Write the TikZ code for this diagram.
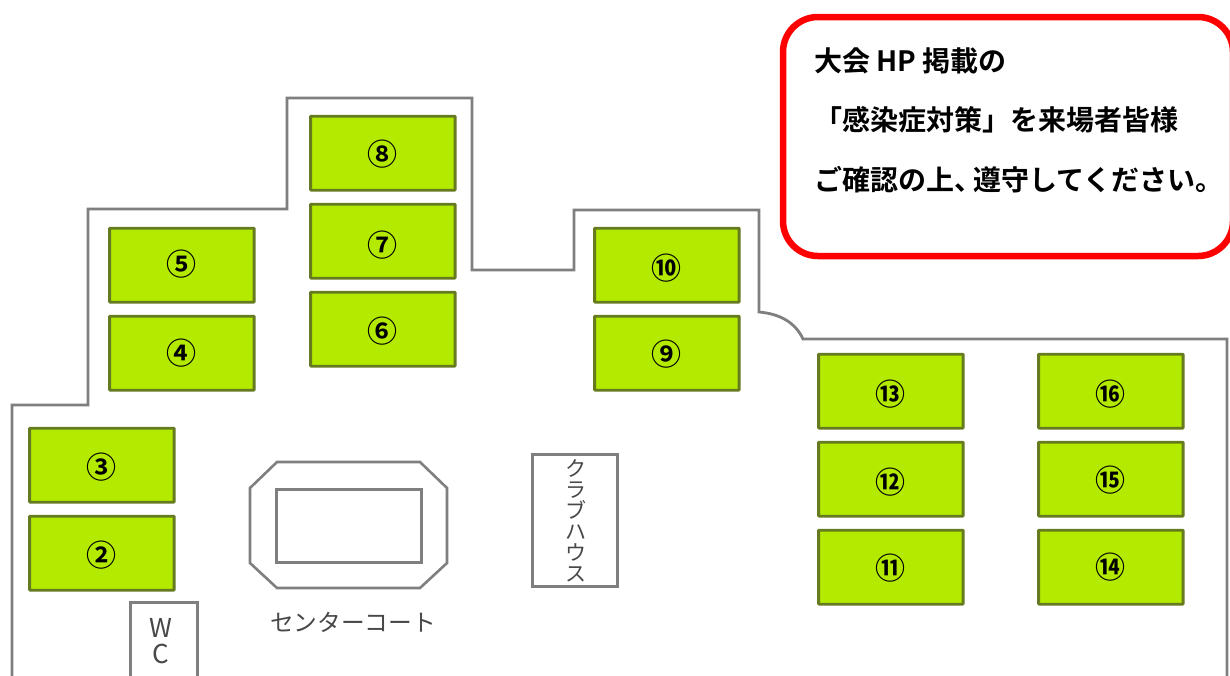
\documentclass[tikz,border=0pt]{standalone}
\usepackage{fontspec}
\newfontfamily\jp{Noto Sans CJK JP}
\newfontfamily\jpb{Noto Sans CJK JP Bold}[BoldFont={Noto Sans CJK JP Bold}]
\definecolor{courtgreen}{HTML}{B4EA00}
\definecolor{courtedge}{HTML}{667A20}
\definecolor{wallgray}{HTML}{7F7F80}
\definecolor{inkgray}{HTML}{484848}
\definecolor{alertred}{HTML}{FF0000}
\tikzset{
  court/.style={draw=courtedge,fill=courtgreen,line width=2.8pt,rounded corners=0.6pt,minimum width=144.5pt,minimum height=74pt,inner sep=0pt,anchor=north west,xshift=-0.8pt,yshift=1.2pt},
  courtnum/.style={inner sep=0pt,font=\jpb\fontsize{30}{30}\selectfont,text=black},
  wall/.style={draw=wallgray,line width=2.8pt,line join=miter},
  facility/.style={draw=wallgray,line width=3pt,fill=white,inner sep=0pt,anchor=north west,xshift=-1pt,yshift=1pt},
  kata/.style={font=\jp\fontsize{21}{21}\selectfont,text=inkgray,inner sep=0pt},
  notice/.style={font=\jpb\fontsize{28}{28}\selectfont,text=black,inner sep=0pt,anchor=base west}
}
\begin{document}
\begin{tikzpicture}[x=1pt,y=-1pt]
\path[use as bounding box] (0,0) rectangle (1230,675);
\begin{scope}
\clip (0,0) rectangle (1230,675);
\fill[white] (0,0) rectangle (1230,675);
% outer wall
\draw[wall] (12,680) -- (12,405) -- (88,405) -- (88,209) -- (287,209) -- (287,98) -- (472,98) -- (472,270) -- (574,270) -- (574,210) -- (759,210) -- (759,312) .. controls (782,314) and (796,324) .. (803,339) -- (1227,339) -- (1227,680);
% courts
\foreach \n/\t/\x/\y/\d in {c8/⑧/310/116/-1,c7/⑦/310/204/-4,c6/⑥/310/292/-2,c5/⑤/109/228/1,c4/④/109/316/0,c3/③/29/428/-2,c2/②/29/516/-2,c10/⑩/594/228/-3,c9/⑨/594/316/-1,c13/⑬/818/354/-3,c12/⑫/818/442/-3,c11/⑪/818/530/-1,c16/⑯/1038/354/-3,c15/⑮/1038/442/-1,c14/⑭/1038/530/0}{
  \node[court] (\n) at (\x,\y) {};
  \node[courtnum] (\n t) at ([yshift=\d pt]\n.center) {\t};
}
% center court
\draw[wall,line width=2.6pt] (277,462) -- (420,462) -- (447,488) -- (447,563) -- (420,588) -- (277,588) -- (250,563) -- (250,488) -- cycle;
\node[facility,minimum width=145pt,minimum height=73pt] (inner) at (276,489) {};
\node[kata,font=\jp\fontsize{23.7}{23.7}\selectfont] (cc) at (353,622) {センターコート};
% club house
\node[facility,minimum width=85pt,minimum height=132pt,align=center] (club) at (532,454) {};
\node[kata,align=center] (clubtext) at (576,521) {\baselineskip=20pt ク\\ラ\\ブ\\ハ\\ウ\\ス};
% WC
\node[facility,minimum width=67pt,minimum height=90pt] (wc) at (130,602) {};
\node[kata,font=\jp\fontsize{26}{26}\selectfont,align=center] (wctext) at (161,641) {\baselineskip=26pt W\\C};
% notice
\draw[draw=alertred,line width=6.5pt,fill=white,rounded corners=35pt] (783,17) rectangle (1233,256);
\node[notice] (l1) at (814,71) {大会 HP 掲載の};
\node[notice] (l2) at (814,130) {「感染症対策」を来場者皆様};
\node[notice] (l3) at (814,190) {ご確認の上、\hspace{-9pt}遵守してください。};
\end{scope}
\end{tikzpicture}
\end{document}
